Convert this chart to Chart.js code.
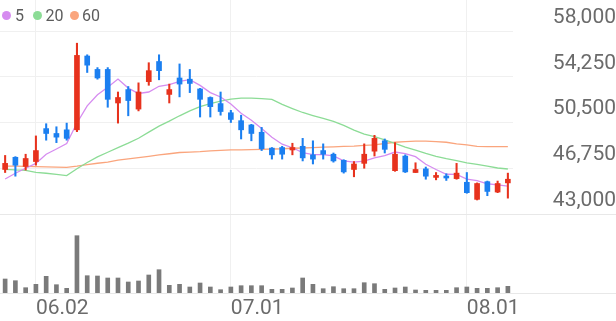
<!DOCTYPE html>
<html>
<head>
<meta charset="utf-8">
<script src="https://cdn.jsdelivr.net/npm/chart.js@4.4.1/dist/chart.umd.min.js"></script>
<style>
  html, body { margin: 0; padding: 0; background: #ffffff; }
  #wrap { position: relative; width: 616px; height: 321px; overflow: hidden; }
  canvas { position: absolute; left: 0; top: 0; }
  .lg { position: absolute; font-family: Roboto, "Noto Sans", sans-serif; font-size: 16px; line-height: 16px; color: #5c5c5c; top: 8px; }
  .dot { position: absolute; width: 9px; height: 9px; border-radius: 50%; top: 10.5px; }
</style>
</head>
<body>
<div id="wrap">
  <canvas id="c" width="616" height="321"></canvas>
  <span class="dot" style="left:2px;background:#d68cf0"></span><span class="lg" style="left:15px">5</span>
  <span class="dot" style="left:33px;background:#8cdc96"></span><span class="lg" style="left:45.5px">20</span>
  <span class="dot" style="left:69.5px;background:#faa57d"></span><span class="lg" style="left:82px">60</span>
</div>
<script>
// ---- data ----
const labels = ['05.28','05.29','05.30','06.02','06.04','06.05','06.09','06.10','06.11','06.12',
  '06.13','06.16','06.17','06.18','06.19','06.20','06.23','06.24','06.25','06.26',
  '06.27','06.30','07.01','07.02','07.03','07.04','07.07','07.08','07.09','07.10',
  '07.11','07.14','07.15','07.16','07.17','07.18','07.21','07.22','07.23','07.24',
  '07.25','07.28','07.29','07.30','07.31','08.01','08.04','08.05','08.06','08.07'];
const dateTicks = ['06.02','07.01','08.01'];
const priceTicks = [43000, 46750, 50500, 54250, 58000];

const opens  = [46650,47650,46900,47300,50000,49600,49900,49900,55950,54850,
  54850,52100,53200,51600,53850,55500,52800,54150,54050,53250,
  52550,52050,51300,50650,50300,49700,48400,48450,48250,48550,
  47850,48200,47900,47400,46650,47150,48150,49000,46550,47750,
  46400,46700,46000,46100,45900,45600,44200,45650,44800,45550];
const highs  = [47800,47700,47900,49400,50400,50150,50450,57000,56050,55000,
  55000,53000,53450,53750,55400,56050,53650,55300,54850,53300,
  52600,53000,51500,51100,50350,50100,48450,48550,48800,49200,
  49000,48750,48000,47450,47300,48750,49450,49150,48850,47850,
  47200,46850,46400,46300,47150,46400,45550,45700,45700,46350];
const lows   = [46400,46100,46600,47000,49050,48850,49050,49750,54600,54050,
  51750,50450,51050,51450,53550,54000,52100,52600,52950,50950,
  50950,51100,50500,49150,49000,48200,47500,47500,47850,47350,
  47100,47500,47250,46350,46050,46750,47750,48000,46500,46400,
  46400,45850,45800,45750,45850,44700,44150,44500,44750,44300];
const closes = [47150,47000,47550,48200,49600,49300,49200,56000,55200,54150,
  52400,52550,52300,53000,54750,54750,53200,53650,53700,52400,
  51800,51400,50750,49900,49600,48350,47850,47900,48450,47600,
  47500,47900,47350,46450,47100,47900,49200,48300,47900,46450,
  46650,46100,46150,45950,46350,44750,45500,44850,45500,45850];
const volumes = [280,246,106,174,334,166,94,1146,346,340,
  300,300,220,240,360,466,154,174,120,200,
  120,66,120,146,146,146,74,74,100,300,
  174,86,126,86,86,206,186,74,100,120,
  60,54,54,54,106,120,94,94,106,134];
const ma5  = [45870,46340,46750,47150,47900,48330,48770,50460,51860,52770,
  53390,54060,53320,52880,53000,53470,53600,53870,54010,53540,
  52950,52590,52010,51250,50690,50000,49290,48720,48430,48030,
  47860,47870,47760,47360,47260,47340,47600,47790,48080,47950,
  47700,47080,46650,46260,46240,45860,45740,45480,45390,45290];
const ma20 = [46660,46610,46580,46420,46340,46250,46150,46710,47220,47680,
  48060,48440,48810,49210,49710,50200,50610,51050,51450,51800,
  52040,52260,52420,52500,52500,52450,52390,51980,51640,51320,
  51070,50840,50590,50260,49880,49540,49340,49070,48780,48480,
  48230,47960,47730,47530,47370,47190,47070,46920,46770,46690];
const ma60 = [46930,46920,46900,46890,46870,46850,46830,46930,47050,47160,
  47260,47410,47520,47620,47730,47840,47940,48040,48080,48120,
  48180,48220,48250,48260,48280,48300,48330,48350,48390,48410,
  48440,48480,48510,48550,48570,48620,48670,48780,48880,48930,
  48970,48980,48940,48880,48750,48660,48550,48520,48520,48520];

// ---- styles ----
const RED = '#e7321d', BLUE = '#1b7ff0';
const candleColors = closes.map((c, i) => c >= opens[i] ? RED : BLUE);
const TXT = '#6b6b6b';
const GRID = '#f0f0f0';
const FONT = { family: 'Roboto, "Noto Sans", sans-serif', size: 21 };

const sepPlugin = {
  id: 'sep',
  beforeDatasetsDraw(chart) {
    const { ctx, chartArea } = chart;
    const y1 = Math.round(chart.scales.y.getPixelForValue(priceTicks[0])) + 0.5;
    const y2 = Math.round(chartArea.bottom) + 0.5;
    ctx.save();
    ctx.strokeStyle = '#e8e8e8';
    ctx.lineWidth = 1;
    ctx.beginPath();
    ctx.moveTo(0, y1); ctx.lineTo(chart.width, y1);
    ctx.moveTo(0, y2); ctx.lineTo(chart.width, y2);
    ctx.stroke();
    ctx.restore();
  }
};

const noPad = (s) => { s.paddingTop = 0; s.paddingBottom = 0; s.paddingLeft = 0; s.paddingRight = 0; };

new Chart(document.getElementById('c'), {
  type: 'bar',
  data: {
    labels: labels,
    datasets: [
      { label: 'vol', data: volumes, yAxisID: 'yv', backgroundColor: '#7a7a7a',
        barThickness: 4, grouped: false, order: 3 },
      { label: 'wick', data: lows.map((l, i) => [l, highs[i]]), yAxisID: 'y',
        backgroundColor: candleColors, barThickness: 1.4, grouped: false, order: 1 },
      { label: 'body', data: opens.map((o, i) => [o, closes[i]]), yAxisID: 'y',
        backgroundColor: candleColors, barThickness: 5, minBarLength: 2, grouped: false, order: 0 },
      { type: 'line', label: '5', data: ma5, yAxisID: 'y', borderColor: '#d68cf0',
        borderWidth: 1.3, pointRadius: 0, tension: 0, order: 2 },
      { type: 'line', label: '20', data: ma20, yAxisID: 'y', borderColor: '#8cdc96',
        borderWidth: 1.3, pointRadius: 0, tension: 0, order: 2 },
      { type: 'line', label: '60', data: ma60, yAxisID: 'y', borderColor: '#faa57d',
        borderWidth: 1.3, pointRadius: 0, tension: 0, order: 2 }
    ]
  },
  options: {
    responsive: false,
    animation: false,
    devicePixelRatio: 1,
    layout: { padding: 0 },
    plugins: { legend: { display: false }, tooltip: { enabled: false } },
    scales: {
      x: {
        type: 'category',
        offset: true,
        border: { display: false },
        grid: { offset: false, color: GRID, drawTicks: false },
        ticks: { align: 'start', autoSkip: false, maxRotation: 0, padding: 3, color: TXT, font: FONT },
        afterBuildTicks: (s) => { s.ticks = s.ticks.filter(t => dateTicks.includes(labels[t.value])); },
        afterFit: (s) => { s.height = 28; noPad(s); }
      },
      y: {
        type: 'linear',
        position: 'right',
        min: 36525,
        max: 60541,
        border: { display: false },
        grid: { color: GRID, drawTicks: false },
        ticks: { crossAlign: 'far', padding: 34, labelOffset: -13.5, color: TXT, font: FONT,
          callback: (v) => Number(v).toLocaleString('en-US') },
        afterBuildTicks: (s) => { s.ticks = priceTicks.map(v => ({ value: v })); },
        afterFit: (s) => { s.width = 103; noPad(s); }
      },
      yv: {
        type: 'linear',
        display: false,
        min: 0,
        max: 5860
      }
    }
  },
  plugins: [sepPlugin]
});
</script>
</body>
</html>
